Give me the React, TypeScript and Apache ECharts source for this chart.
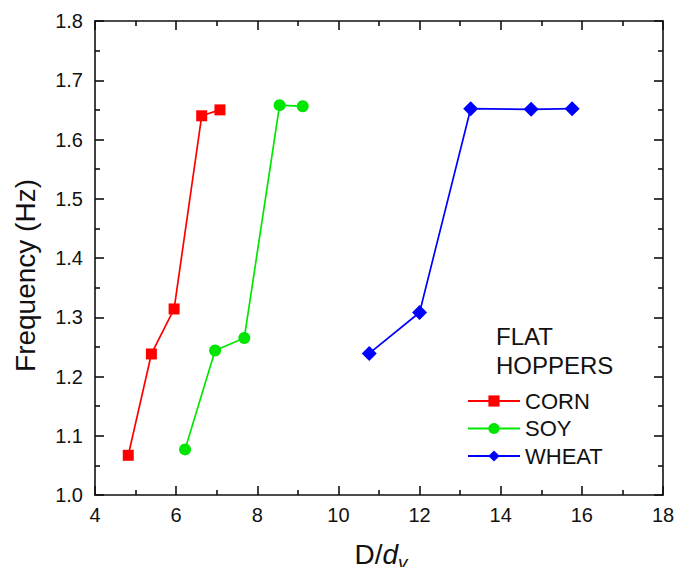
import React, { useEffect, useRef } from "react";
import * as echarts from "echarts";

// D/d_v ratios and measured frequencies (Hz) for each grain in flat hoppers
const cornX = [4.82, 5.39, 5.95, 6.63, 7.08];
const cornY = [1.067, 1.238, 1.314, 1.64, 1.65];
const soyX = [6.22, 6.96, 7.68, 8.55, 9.12];
const soyY = [1.077, 1.244, 1.265, 1.658, 1.656];
const wheatX = [10.76, 12.0, 13.26, 14.75, 15.76];
const wheatY = [1.239, 1.308, 1.652, 1.651, 1.652];

const seriesNames = ["CORN", "SOY", "WHEAT"];
const legendTitle = ["FLAT", "HOPPERS"];

const FONT = "'Liberation Sans', Arial, sans-serif";
const AXIS_COLOR = "#111111";
const TEXT_COLOR = "#111111";

const pairs = (xs: number[], ys: number[]) => xs.map((x, i) => [x, ys[i]]);

export default function App() {
  const ref = useRef<HTMLDivElement>(null);

  useEffect(() => {
    if (!ref.current) return;
    const chart = echarts.init(ref.current, null, { renderer: "svg" });

    const axisLine = { show: true, onZero: false, lineStyle: { color: AXIS_COLOR, width: 1.6 } };
    const tickStyle = { color: AXIS_COLOR, width: 1.6 };

    const xBase = {
      type: "value",
      min: 4,
      max: 18,
      interval: 2,
      axisLine,
      axisTick: { show: true, inside: true, length: 9, lineStyle: tickStyle },
      minorTick: { show: true, splitNumber: 2, length: 5, lineStyle: tickStyle },
      splitLine: { show: false },
    };
    const yBase = {
      type: "value",
      min: 1.0,
      max: 1.8,
      interval: 0.1,
      axisLine,
      axisTick: { show: true, inside: true, length: 9, lineStyle: tickStyle },
      minorTick: { show: true, splitNumber: 2, length: 5, lineStyle: tickStyle },
      splitLine: { show: false },
    };

    const line = (name: string, data: number[][], color: string, symbol: string, size: number) => ({
      name,
      type: "line",
      data,
      symbol,
      symbolSize: size,
      showSymbol: true,
      lineStyle: { color, width: 1.7 },
      itemStyle: { color },
      xAxisIndex: 0,
      yAxisIndex: 0,
      z: 3,
    });

    chart.setOption({
      animation: false,
      backgroundColor: "#ffffff",
      textStyle: { fontFamily: FONT },
      grid: { left: 95, right: 25, top: 21, bottom: 80, outerBoundsMode: "none", containLabel: false },
      xAxis: [
        {
          ...xBase,
          position: "bottom",
          name: "{n|D/}{i|d}{s|v}",
          nameLocation: "middle",
          nameGap: 41,
          nameTextStyle: {
            padding: [0, 0, 0, 4],
            rich: {
              n: { fontSize: 28, color: TEXT_COLOR, fontFamily: FONT },
              i: { fontSize: 28, color: TEXT_COLOR, fontStyle: "italic", fontFamily: FONT },
              s: {
                fontSize: 19,
                color: TEXT_COLOR,
                fontStyle: "italic",
                fontFamily: FONT,
                verticalAlign: "bottom",
                padding: [17, 0, 0, 0],
              },
            },
          },
          axisLabel: { show: true, fontSize: 20, color: TEXT_COLOR, margin: 10, fontFamily: FONT },
        },
        { ...xBase, position: "top", axisLabel: { show: false } },
      ],
      yAxis: [
        {
          ...yBase,
          position: "left",
          name: "Frequency (Hz)",
          nameLocation: "middle",
          nameGap: 56,
          nameTextStyle: {
            fontSize: 28,
            color: TEXT_COLOR,
            fontFamily: FONT,
            padding: [0, 35, 0, 0],
          },
          axisLabel: {
            show: true,
            fontSize: 20,
            color: TEXT_COLOR,
            margin: 12,
            fontFamily: FONT,
            formatter: (v: number) => v.toFixed(1),
          },
        },
        { ...yBase, position: "right", axisLabel: { show: false } },
      ],
      legend: {
        orient: "vertical",
        left: 467,
        top: 390,
        padding: 0,
        itemWidth: 52,
        itemHeight: 14,
        itemGap: 5.5,
        data: seriesNames,
        textStyle: { fontSize: 22, color: TEXT_COLOR, fontFamily: FONT },
      },
      graphic: [
        {
          type: "text",
          left: 496,
          top: 322,
          style: {
            text: legendTitle.join("\n"),
            fontSize: 24,
            lineHeight: 28.7,
            fill: TEXT_COLOR,
            fontFamily: FONT,
          },
        },
      ],
      series: [
        line(seriesNames[0], pairs(cornX, cornY), "#ff0000", "rect", 11),
        line(seriesNames[1], pairs(soyX, soyY), "#00e600", "circle", 12),
        line(seriesNames[2], pairs(wheatX, wheatY), "#0000ff", "diamond", 15),
      ],
    });

    return () => chart.dispose();
  }, []);

  return <div ref={ref} style={{ width: 688, height: 575, margin: -8 }} />;
}
